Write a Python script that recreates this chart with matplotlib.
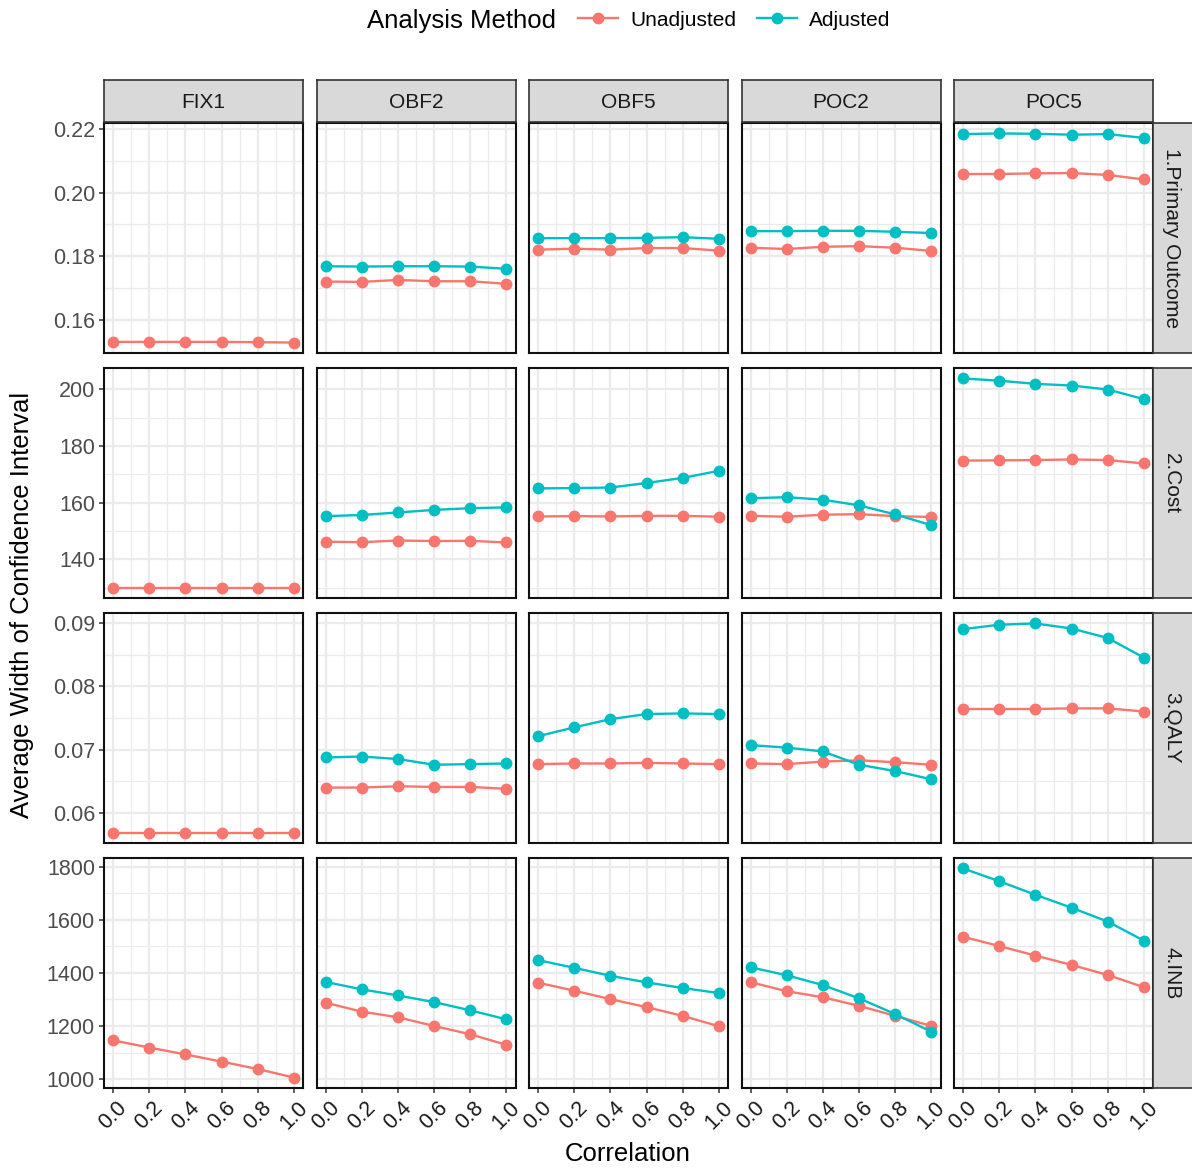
import matplotlib
matplotlib.use('Agg')
import matplotlib.pyplot as plt
from matplotlib.ticker import MultipleLocator, FormatStrFormatter

plt.rcParams['font.family'] = ['Liberation Sans', 'DejaVu Sans']

corr = [0.0, 0.2, 0.4, 0.6, 0.8, 1.0]
methods = ['FIX1', 'OBF2', 'OBF5', 'POC2', 'POC5']
outcomes = ['1.Primary Outcome', '2.Cost', '3.QALY', '4.INB']

# values per method (FIX1, OBF2, OBF5, POC2, POC5); FIX1 has no adjusted series
primary_unadj = [[0.1532, 0.1532, 0.1532, 0.1532, 0.1531, 0.1530],
                 [0.1721, 0.1720, 0.1726, 0.1722, 0.1722, 0.1714],
                 [0.1821, 0.1824, 0.1821, 0.1826, 0.1826, 0.1818],
                 [0.1827, 0.1823, 0.1830, 0.1832, 0.1827, 0.1817],
                 [0.2058, 0.2058, 0.2060, 0.2061, 0.2055, 0.2041]]
primary_adj = [None,
               [0.1769, 0.1768, 0.1769, 0.1769, 0.1768, 0.1761],
               [0.1857, 0.1857, 0.1857, 0.1858, 0.1860, 0.1855],
               [0.1879, 0.1879, 0.1880, 0.1880, 0.1877, 0.1873],
               [0.2183, 0.2185, 0.2184, 0.2181, 0.2183, 0.2171]]

cost_unadj = [[130.0, 130.0, 130.0, 130.0, 130.0, 130.0],
              [146.2, 146.0, 146.6, 146.4, 146.5, 145.9],
              [155.1, 155.2, 155.1, 155.3, 155.3, 155.0],
              [155.3, 155.0, 155.7, 155.9, 155.2, 154.9],
              [174.8, 174.9, 175.0, 175.2, 175.0, 173.8]]
cost_adj = [None,
            [155.2, 155.6, 156.5, 157.4, 158.0, 158.3],
            [165.0, 165.1, 165.3, 166.9, 168.7, 171.2],
            [161.5, 161.9, 161.0, 159.0, 155.8, 152.0],
            [203.8, 203.0, 201.9, 201.3, 199.9, 196.5]]

qaly_unadj = [[0.0569, 0.0569, 0.0569, 0.0569, 0.0569, 0.0569],
              [0.0640, 0.0640, 0.0642, 0.0641, 0.0641, 0.0638],
              [0.0677, 0.0678, 0.0678, 0.0679, 0.0678, 0.0677],
              [0.0678, 0.0677, 0.0681, 0.0683, 0.0680, 0.0676],
              [0.0764, 0.0764, 0.0764, 0.0765, 0.0765, 0.0760]]
qaly_adj = [None,
            [0.06875, 0.0689, 0.0685, 0.0676, 0.0677, 0.0678],
            [0.0721, 0.0735, 0.0748, 0.0756, 0.0757, 0.0756],
            [0.0707, 0.0703, 0.0697, 0.0676, 0.0666, 0.0653],
            [0.0890, 0.0897, 0.0899, 0.0891, 0.0876, 0.0845]]

inb_unadj = [[1146, 1119, 1093, 1066, 1038, 1006],
             [1288, 1254, 1233, 1200, 1169, 1129],
             [1363, 1333, 1301, 1271, 1238, 1199],
             [1365, 1331, 1308, 1276, 1238, 1200],
             [1536, 1501, 1465, 1430, 1392, 1346]]
inb_adj = [None,
           [1366, 1338, 1315, 1290, 1259, 1225],
           [1448, 1419, 1389, 1364, 1343, 1324],
           [1421, 1391, 1354, 1304, 1245, 1178],
           [1793, 1745, 1694, 1645, 1593, 1521]]

unadj_rows = [primary_unadj, cost_unadj, qaly_unadj, inb_unadj]
adj_rows = [primary_adj, cost_adj, qaly_adj, inb_adj]
y_steps = [0.02, 20, 0.01, 200]
y_fmts = ['%.2f', '%d', '%.2f', '%d']

RED = '#F8766D'
TEAL = '#00BFC4'
GRID = '#EBEBEB'
EDGE = '#333333'
STRIP = '#D9D9D9'

W, H = 1192, 1169
fig = plt.figure(figsize=(W / 100, H / 100), dpi=100)

def box(l, t, w, h):
    return [l / W, 1 - (t + h) / H, w / W, h / H]

pw, ph = 199, 230
lefts = [104 + j * 212.5 for j in range(5)]
tops = [123 + i * 245 for i in range(4)]

handles = None
for i in range(4):
    vals = [v for s in unadj_rows[i] for v in s]
    vals += [v for s in adj_rows[i] if s is not None for v in s]
    lo, hi = min(vals), max(vals)
    pad = (hi - lo) * 0.05
    for j in range(5):
        ax = fig.add_axes(box(lefts[j], tops[i], pw, ph))
        l1, = ax.plot(corr, unadj_rows[i][j], color=RED, lw=1.7, marker='o',
                      ms=7.5, label='Unadjusted', zorder=3)
        if adj_rows[i][j] is not None:
            l2, = ax.plot(corr, adj_rows[i][j], color=TEAL, lw=1.7, marker='o',
                          ms=7.5, label='Adjusted', zorder=4)
            if handles is None:
                handles = [l1, l2]
        ax.set_xlim(-0.05, 1.05)
        ax.set_ylim(lo - pad, hi + pad)
        ax.xaxis.set_major_locator(MultipleLocator(0.2))
        ax.xaxis.set_minor_locator(MultipleLocator(0.1))
        ax.yaxis.set_major_locator(MultipleLocator(y_steps[i]))
        ax.yaxis.set_minor_locator(MultipleLocator(y_steps[i] / 2))
        ax.xaxis.set_major_formatter(FormatStrFormatter('%.1f'))
        ax.yaxis.set_major_formatter(FormatStrFormatter(y_fmts[i]))
        ax.grid(which='major', color=GRID, lw=1.6, zorder=0)
        ax.grid(which='minor', color=GRID, lw=0.9, zorder=0)
        ax.set_axisbelow(True)
        for sp in ax.spines.values():
            sp.set_color('#111111')
            sp.set_linewidth(1.5)
        ax.tick_params(which='minor', length=0)
        ax.tick_params(which='major', length=3.5, width=1.1, color=EDGE)
        ax.tick_params(axis='y', labelsize=15.5, labelcolor='#4D4D4D', pad=3,
                       left=(j == 0), labelleft=(j == 0))
        ax.tick_params(axis='x', labelsize=15.5, labelcolor='#1a1a1a', pad=3,
                       bottom=(i == 3), labelbottom=(i == 3))
        if i == 3:
            for lab in ax.get_xticklabels():
                lab.set_rotation(45)
                lab.set_ha('center')
                lab.set_va('top')

# top strips
for j in range(5):
    sa = fig.add_axes(box(lefts[j], 80, pw, 42))
    sa.set_xticks([])
    sa.set_yticks([])
    sa.set_facecolor(STRIP)
    for sp in sa.spines.values():
        sp.set_color(EDGE)
        sp.set_linewidth(1.2)
    sa.text(0.5, 0.47, methods[j], ha='center', va='center', fontsize=15,
            color='#1A1A1A', transform=sa.transAxes)

# right strips
for i in range(4):
    sa = fig.add_axes(box(1153, tops[i], 42, ph))
    sa.set_xticks([])
    sa.set_yticks([])
    sa.set_facecolor(STRIP)
    for sp in sa.spines.values():
        sp.set_color(EDGE)
        sp.set_linewidth(1.2)
    sa.text(0.45, 0.5, outcomes[i], ha='center', va='center', fontsize=15,
            color='#1A1A1A', rotation=-90, transform=sa.transAxes)

fig.text(22 / W, 1 - 605 / H, 'Average Width of Confidence Interval',
         rotation=90, ha='center', va='center', fontsize=18.5)
fig.text(628 / W, 1 - 1154 / H, 'Correlation', ha='center', va='center',
         fontsize=18.5)

fig.text(367 / W, 1 - 21 / H, 'Analysis Method', ha='left', va='center',
         fontsize=18.5)
fig.legend(handles, ['Unadjusted', 'Adjusted'], ncol=2, frameon=False,
           loc='center left', bbox_to_anchor=(578 / W, 1 - 20 / H),
           fontsize=15, handlelength=1.9, handletextpad=0.6,
           columnspacing=1.0, borderaxespad=0, borderpad=0)

fig.savefig('out.png', dpi=100)
